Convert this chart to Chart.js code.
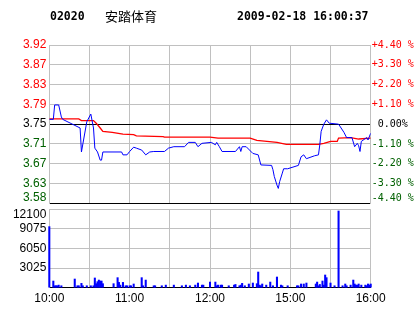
<!DOCTYPE html>
<html><head><meta charset="utf-8">
<script src="https://cdn.jsdelivr.net/npm/chart.js@4.4.0/dist/chart.umd.min.js"></script>
<style>
html,body{margin:0;padding:0;background:#fff;width:414px;height:314px;overflow:hidden;}
#wrap{position:relative;width:414px;height:314px;}
canvas{position:absolute;left:0;top:0;}
.hdr{position:absolute;top:9px;line-height:14px;font:bold 11.5px "DejaVu Sans Mono",monospace;color:#000;white-space:pre;}
</style></head><body>
<div id="wrap">
<canvas id="c1" width="414" height="314"></canvas>
<canvas id="c2" width="414" height="314"></canvas>
<div class="hdr" id="code" style="left:50px"></div>
<div class="hdr" id="name" style="left:105px;font:13px 'Noto Sans CJK SC',sans-serif;line-height:14px;"></div>
<div class="hdr" id="stamp" style="left:237px"></div>
</div>
<script>
// ---- header text ----
const stockCode = "02020";
const stockName = "安踏体育";
const stampText = "2009-02-18 16:00:37";

// ---- axis ticks ----
const priceTickValues = [3.585, 3.62625, 3.6675, 3.70875, 3.75, 3.79125, 3.8325, 3.87375, 3.915];
const priceTickLabels = ["3.58", "3.63", "3.67", "3.71", "3.75", "3.79", "3.83", "3.87", "3.92"];
const pctTickLabels = ["-4.40 %", "-3.30 %", "-2.20 %", "-1.10 %", " 0.00%", "+1.10 %", "+2.20 %", "+3.30 %", "+4.40 %"];
const tickColors = ["#006000", "#006000", "#006000", "#006000", "#000000", "#ff0000", "#ff0000", "#ff0000", "#ff0000"];
const timeTickValues = [0, 30, 60, 90, 120, 150, 180, 210, 240];
const timeTickLabels = ["10:00", "", "11:00", "", "12:00", "", "15:00", "", "16:00"];
const volTickValues = [0, 3025, 6050, 9075, 12100];
const volTickLabels = ["", "3025", "6050", "9075", "12100"];

// ---- price series (minute index from 10:00, trading minutes) ----
const priceTimes = [0, 3, 4, 7, 9, 10, 23, 24, 28, 31, 33, 34, 36, 38, 39, 40, 54, 55, 58, 60, 63, 65, 69, 72, 75, 78, 86, 89, 93, 101, 104, 109, 111, 114, 121, 124, 125, 127, 129, 139, 142, 143, 144, 147, 152, 156, 158, 166, 167, 168, 170, 171, 172, 174, 175, 178, 186, 188, 190, 192, 198, 201, 202, 203, 205, 207, 209, 216, 220, 222, 226, 228, 230, 231, 232, 233, 237, 238, 240];
const priceValues = [3.76, 3.76, 3.79, 3.79, 3.765, 3.76, 3.742, 3.692, 3.755, 3.771, 3.742, 3.70, 3.692, 3.675, 3.675, 3.692, 3.692, 3.686, 3.686, 3.693, 3.702, 3.70, 3.696, 3.686, 3.692, 3.693, 3.693, 3.70, 3.703, 3.703, 3.712, 3.712, 3.703, 3.71, 3.712, 3.707, 3.712, 3.703, 3.693, 3.693, 3.703, 3.693, 3.703, 3.703, 3.689, 3.686, 3.665, 3.664, 3.655, 3.641, 3.623, 3.616, 3.63, 3.648, 3.657, 3.657, 3.664, 3.682, 3.686, 3.678, 3.684, 3.686, 3.707, 3.735, 3.75, 3.759, 3.752, 3.75, 3.733, 3.722, 3.722, 3.703, 3.71, 3.705, 3.693, 3.714, 3.722, 3.717, 3.731];

// ---- average price series ----
const avgTimes = [0, 22, 24, 33, 35, 38, 40, 47, 55, 63, 65, 85, 86, 120, 126, 150, 155, 170, 177, 201, 205, 210, 215, 216, 225, 231, 240];
const avgValues = [3.761, 3.761, 3.7575, 3.7575, 3.752, 3.742, 3.735, 3.733, 3.729, 3.728, 3.7255, 3.724, 3.723, 3.723, 3.721, 3.721, 3.716, 3.712, 3.708, 3.708, 3.710, 3.714, 3.714, 3.721, 3.722, 3.719, 3.721];

// ---- volume series ----
const volTimes = [0, 3, 4, 5, 6, 7, 9, 19, 21, 22, 24, 25, 28, 31, 33, 34, 35, 36, 37, 38, 39, 40, 48, 51, 52, 53, 55, 57, 58, 60, 61, 63, 69, 70, 72, 78, 79, 84, 87, 93, 99, 102, 105, 109, 111, 114, 115, 120, 124, 125, 126, 128, 129, 134, 138, 139, 142, 143, 144, 146, 149, 152, 155, 156, 157, 158, 159, 162, 165, 167, 170, 173, 174, 178, 185, 186, 188, 190, 192, 199, 200, 201, 202, 204, 205, 206, 207, 210, 213, 216, 219, 221, 222, 225, 227, 228, 229, 230, 231, 233, 236, 237, 238, 239, 240];
const volValues = [9425, 1030, 300, 300, 300, 400, 300, 1340, 300, 300, 670, 300, 300, 300, 300, 1500, 620, 930, 1180, 1030, 1030, 620, 620, 1550, 820, 400, 820, 300, 300, 300, 300, 570, 1550, 300, 1180, 300, 300, 300, 400, 400, 300, 400, 300, 400, 720, 400, 400, 870, 870, 300, 400, 400, 400, 300, 400, 500, 300, 400, 670, 300, 570, 720, 620, 2420, 400, 300, 570, 400, 870, 300, 1650, 400, 300, 300, 300, 300, 570, 570, 720, 570, 870, 300, 500, 1030, 400, 1960, 1550, 720, 300, 11840, 300, 570, 300, 400, 1180, 570, 400, 400, 570, 400, 400, 300, 570, 400, 570];

document.getElementById("code").textContent = stockCode;
document.getElementById("name").textContent = stockName;
document.getElementById("stamp").textContent = stampText;

const GRID = "#c0c0c0";
const LABEL_FONT = {family: "'Liberation Sans', Arial, sans-serif", size: 12, lineHeight: 0.9};
const PCT_FONT = {family: "'DejaVu Sans Mono', monospace", size: 10, lineHeight: 1.05};
const LEFT_W = 49.3, RIGHT_W = 43.3;

const pricePts = priceTimes.map((t, i) => ({x: t, y: priceValues[i]}));
const avgPts = avgTimes.map((t, i) => ({x: t, y: avgValues[i]}));
const volPts = volTimes.map((t, i) => ({x: t, y: volValues[i]}));

const setTicks = vals => s => { s.ticks = vals.map(v => ({value: v})); };
// edge labels sit inside the plot: bottom one nudged up, top one nudged down
const raise = t => [t, ""];
const lower = t => ["", t];

new Chart(document.getElementById("c1"), {
  type: "line",
  data: {datasets: [
    {data: pricePts, borderColor: "#0000ff", borderWidth: 1, pointRadius: 0, tension: 0, fill: false},
    {data: avgPts, borderColor: "#ff0000", borderWidth: 1.3, pointRadius: 0, tension: 0, fill: false}
  ]},
  options: {
    responsive: false, animation: false, events: [],
    layout: {padding: {top: 45, bottom: 110.7, left: 0, right: 0}},
    plugins: {legend: {display: false}, tooltip: {enabled: false}},
    scales: {
      x: {type: "linear", min: 0, max: 240, afterBuildTicks: setTicks(timeTickValues),
          afterFit: s => { s.height = 0; },
          ticks: {display: false}, grid: {color: GRID, drawTicks: false}, border: {color: "#000"}},
      y: {type: "linear", position: "left", min: 3.585, max: 3.915, afterBuildTicks: setTicks(priceTickValues),
          afterFit: s => { s.width = LEFT_W; },
          ticks: {autoSkip: false, padding: 3, font: LABEL_FONT,
                  callback: (v, i) => (i === 0 ? raise(priceTickLabels[i]) : priceTickLabels[i]),
                  color: c => tickColors[c.index]},
          grid: {drawTicks: false, color: c => (c.index === 4 ? "#000" : GRID)}, border: {color: GRID}},
      y2: {type: "linear", position: "right", min: 3.585, max: 3.915, afterBuildTicks: setTicks(priceTickValues),
          afterFit: s => { s.width = RIGHT_W; },
          ticks: {autoSkip: false, padding: 1, font: PCT_FONT,
                  callback: (v, i) => (i === 0 ? raise(pctTickLabels[i]) : pctTickLabels[i]),
                  color: c => tickColors[c.index]},
          grid: {drawOnChartArea: false, drawTicks: false}, border: {color: GRID}}
    }
  }
});

new Chart(document.getElementById("c2"), {
  type: "bar",
  data: {datasets: [{data: volPts, backgroundColor: "#0000ff", barThickness: 1.4, clip: false}]},
  options: {
    responsive: false, animation: false, events: [],
    layout: {padding: {top: 209.3, bottom: 0, left: 0, right: RIGHT_W}},
    plugins: {legend: {display: false}, tooltip: {enabled: false}},
    scales: {
      x: {type: "linear", min: 0, max: 240, offset: false, afterBuildTicks: setTicks(timeTickValues),
          afterFit: s => { s.height = 26.3; },
          ticks: {autoSkip: false, maxRotation: 0, padding: 4, color: "#000",
                  font: {family: "'Liberation Sans', Arial, sans-serif", size: 12},
                  callback: (v, i) => timeTickLabels[i]},
          grid: {color: GRID, drawTicks: false, offset: false}, border: {color: "#000"}},
      y: {type: "linear", min: 0, max: 12100, afterBuildTicks: setTicks(volTickValues),
          afterFit: s => { s.width = LEFT_W; },
          ticks: {autoSkip: false, padding: 3, color: "#000", font: LABEL_FONT,
                  callback: (v, i) => (i === volTickLabels.length - 1 ? lower(volTickLabels[i]) : volTickLabels[i])},
          grid: {color: GRID, drawTicks: false}, border: {color: GRID}}
    }
  }
});
</script>
</body></html>
